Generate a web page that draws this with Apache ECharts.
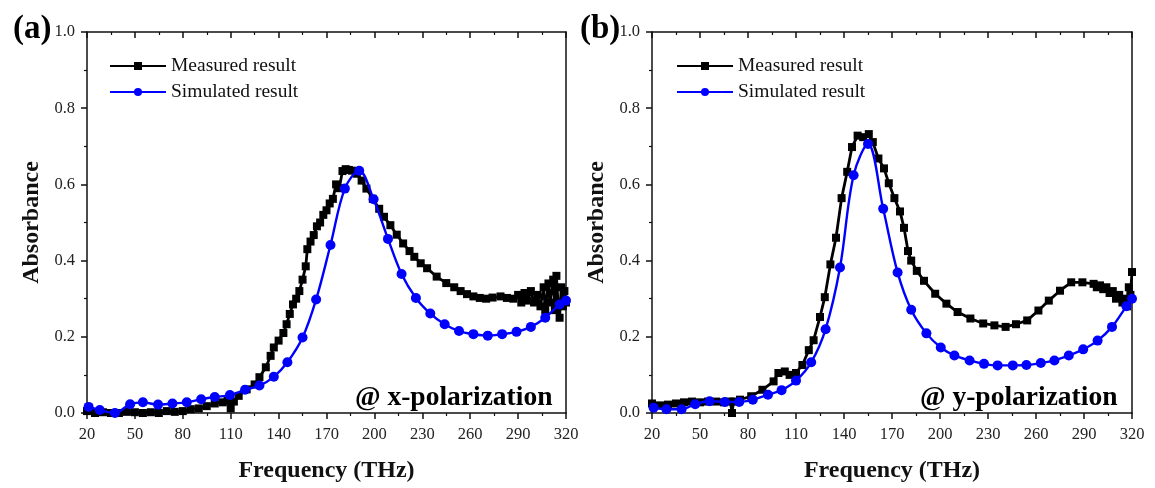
<!DOCTYPE html>
<html>
<head>
<meta charset="utf-8">
<script src="https://cdn.jsdelivr.net/npm/echarts@6/dist/echarts.min.js"></script>
<style>
  html, body { margin: 0; padding: 0; background: #fff; }
  #chart { width: 1155px; height: 488px; }
</style>
</head>
<body>
<div id="chart"></div>
<script>
// (a) x-polarization, measured: [frequency THz, absorbance]
const measuredX = [
  [20, 0.005], [25, 0.0], [30, 0.002], [35, 0.0], [40, 0.0], [45, 0.003], [50, 0.002], [55, 0.0],
  [60, 0.002], [65, 0.0], [70, 0.005], [75, 0.003], [80, 0.005], [85, 0.01], [90, 0.012], [95, 0.018],
  [100, 0.025], [105, 0.028], [108, 0.032], [110, 0.012], [112, 0.03], [115, 0.045], [120, 0.062],
  [125, 0.075], [128, 0.094], [132, 0.12], [135, 0.15], [137, 0.172], [140, 0.19], [143, 0.21],
  [145, 0.233], [147, 0.26], [149, 0.285], [151, 0.3], [153, 0.32], [155, 0.35], [157, 0.385],
  [158, 0.43], [160, 0.45], [162, 0.467], [164, 0.49], [166, 0.5], [168, 0.52], [170, 0.532],
  [172, 0.55], [174, 0.562], [176, 0.6], [178, 0.59], [180, 0.635], [182, 0.64], [184, 0.638],
  [186, 0.636], [189, 0.628], [192, 0.61], [195, 0.589], [199, 0.562], [203, 0.536], [206, 0.515],
  [210, 0.493], [214, 0.468], [218, 0.445], [222, 0.425], [225, 0.41], [229, 0.393], [233, 0.38],
  [239, 0.358], [245, 0.341], [250, 0.33], [254, 0.32], [258, 0.312], [262, 0.306], [266, 0.302],
  [270, 0.3], [274, 0.303], [279, 0.306], [283, 0.302], [287, 0.3], [290, 0.31], [292, 0.29],
  [294, 0.315], [296, 0.295], [298, 0.32], [300, 0.29], [302, 0.31], [304, 0.28], [306, 0.33],
  [307, 0.27], [309, 0.34], [310, 0.29], [312, 0.35], [313, 0.27], [314, 0.36], [315, 0.29],
  [316, 0.25], [317, 0.33], [318, 0.28], [319, 0.32], [320, 0.29]
];
// (a) x-polarization, simulated
const simulatedX = [
  [21, 0.016], [28, 0.008], [37.5, 0.0], [47, 0.023], [55, 0.028], [64.5, 0.022], [73.5, 0.025],
  [82.5, 0.028], [91.5, 0.036], [100, 0.042], [109.5, 0.047], [119, 0.061], [128, 0.072],
  [137, 0.095], [145.5, 0.133], [155, 0.198], [163.5, 0.298], [172.5, 0.441], [181.5, 0.589],
  [190.5, 0.636], [199.5, 0.561], [208.5, 0.457], [217, 0.365], [226, 0.302], [235, 0.261],
  [244, 0.233], [253, 0.215], [262, 0.207], [271, 0.203], [280, 0.207], [289, 0.213],
  [298, 0.226], [307, 0.25], [316, 0.285], [320, 0.295]
];
// (b) y-polarization, measured
const measuredY = [
  [20, 0.025], [25, 0.02], [30, 0.022], [35, 0.025], [40, 0.028], [45, 0.03], [50, 0.028],
  [55, 0.03], [60, 0.03], [65, 0.028], [69, 0.03], [70, 0.0], [71, 0.03], [75, 0.035], [82, 0.044],
  [89, 0.061], [96, 0.083], [99, 0.105], [103, 0.109], [106, 0.1], [110, 0.105], [114, 0.126],
  [118, 0.165], [121, 0.191], [125, 0.252], [128, 0.304], [131.5, 0.39], [135, 0.46], [138.5, 0.564],
  [142, 0.633], [145, 0.698], [148.5, 0.728], [152, 0.724], [155.5, 0.732], [158, 0.711],
  [161.5, 0.668], [165, 0.642], [168, 0.603], [171.5, 0.564], [175, 0.529], [177.5, 0.486],
  [180, 0.425], [182, 0.4], [185.5, 0.373], [190, 0.347], [197, 0.313], [204, 0.287], [211, 0.265],
  [219, 0.248], [227, 0.235], [234, 0.23], [241, 0.226], [247.5, 0.233], [254.5, 0.243],
  [261.5, 0.269], [268, 0.295], [275, 0.321], [282, 0.343], [289, 0.343], [296, 0.339],
  [298, 0.33], [300, 0.335], [302, 0.325], [304, 0.33], [306, 0.315], [308, 0.32], [310, 0.3],
  [312, 0.31], [314, 0.29], [316, 0.3], [317, 0.28], [318, 0.33], [319, 0.31], [320, 0.37]
];
// (b) y-polarization, simulated
const simulatedY = [
  [21, 0.014], [29, 0.01], [38.5, 0.01], [47, 0.023], [56, 0.031], [65.5, 0.029], [74.5, 0.029],
  [83, 0.035], [92.5, 0.048], [101, 0.06], [110, 0.085], [119.5, 0.133], [128.5, 0.22],
  [137.5, 0.382], [146, 0.624], [155, 0.706], [164.5, 0.536], [173.5, 0.369], [182, 0.271],
  [191.5, 0.209], [200.5, 0.172], [209, 0.151], [218.5, 0.138], [227.5, 0.129], [236, 0.125],
  [245.5, 0.125], [254, 0.126], [263, 0.131], [271.5, 0.138], [280.5, 0.151], [289.5, 0.167],
  [298.5, 0.19], [307.5, 0.226], [316.5, 0.28], [320, 0.3]
];

const panelLabels = ['(a)', '(b)'];
const polarLabels = ['@ x-polarization', '@ y-polarization'];
const xTitle = 'Frequency (THz)';
const yTitle = 'Absorbance';

const FONT = '"Liberation Serif", "Times New Roman", serif';

const chart = echarts.init(document.getElementById('chart'));

const grids = [
  {left: 87, top: 32, width: 479, height: 384},
  {left: 652, top: 32, width: 480, height: 384}
];

function bottomX(i) {
  return {
    type: 'value', gridIndex: i, position: 'bottom',
    min: 20, max: 320, interval: 30,
    name: xTitle, nameLocation: 'middle', nameGap: 46,
    nameTextStyle: {fontFamily: FONT, fontWeight: 'bold', fontSize: 24, color: '#111'},
    axisLine: {onZero: false, lineStyle: {color: '#111', width: 1.5}},
    axisTick: {inside: false, length: 6, lineStyle: {color: '#111', width: 1.5}},
    minorTick: {show: true, splitNumber: 2, length: 3, lineStyle: {color: '#111', width: 1.2}},
    axisLabel: {fontFamily: FONT, fontSize: 16.5, color: '#222', margin: 13},
    splitLine: {show: false}
  };
}
function topX(i) {
  return {
    type: 'value', gridIndex: i, position: 'top',
    min: 20, max: 320, interval: 30,
    axisLine: {onZero: false, lineStyle: {color: '#111', width: 1.5}},
    axisTick: {inside: true, length: 6, lineStyle: {color: '#111', width: 1.5}},
    minorTick: {show: true, splitNumber: 2, length: 3, lineStyle: {color: '#111', width: 1.2}},
    axisLabel: {show: false},
    splitLine: {show: false}
  };
}
function leftY(i) {
  return {
    type: 'value', gridIndex: i, position: 'left',
    min: 0, max: 1, interval: 0.2,
    name: yTitle, nameLocation: 'middle', nameGap: 43,
    nameTextStyle: {fontFamily: FONT, fontWeight: 'bold', fontSize: 24, color: '#111'},
    axisLine: {show: true, onZero: false, lineStyle: {color: '#111', width: 1.5}},
    axisTick: {show: true, inside: false, length: 6, lineStyle: {color: '#111', width: 1.5}},
    minorTick: {show: true, splitNumber: 2, length: 3, lineStyle: {color: '#111', width: 1.2}},
    axisLabel: {fontFamily: FONT, fontSize: 16.5, color: '#222', margin: 12,
      formatter: v => v.toFixed(1)},
    splitLine: {show: false}
  };
}
function rightY(i) {
  return {
    type: 'value', gridIndex: i, position: 'right',
    min: 0, max: 1, interval: 0.2,
    axisLine: {show: true, onZero: false, lineStyle: {color: '#111', width: 1.5}},
    axisTick: {show: false},
    axisLabel: {show: false},
    splitLine: {show: false}
  };
}

function measuredSeries(i, data) {
  return {
    name: 'Measured result', type: 'line', xAxisIndex: i * 2, yAxisIndex: i * 2,
    data: data, symbol: 'rect', symbolSize: 8, showAllSymbol: true,
    lineStyle: {color: '#000', width: 2.8}, itemStyle: {color: '#000'},
    z: 3
  };
}
function simulatedSeries(i, data) {
  return {
    name: 'Simulated result', type: 'line', xAxisIndex: i * 2, yAxisIndex: i * 2,
    data: data, symbol: 'circle', symbolSize: 10, smooth: 0.35, showAllSymbol: true,
    lineStyle: {color: '#0000ff', width: 2.4}, itemStyle: {color: '#0000ff'},
    z: 4
  };
}

function legend(left) {
  return {
    left: left, top: 51, orient: 'vertical',
    itemWidth: 56, itemHeight: 10, itemGap: 6,
    textStyle: {fontFamily: FONT, fontSize: 19.5, color: '#111'},
    data: ['Measured result', 'Simulated result']
  };
}

const option = {
  animation: false,
  backgroundColor: '#fff',
  title: [
    {text: panelLabels[0], left: 8, top: 8, textStyle: {fontFamily: FONT, fontWeight: 'bold', fontSize: 33, color: '#000'}},
    {text: panelLabels[1], left: 575, top: 8, textStyle: {fontFamily: FONT, fontWeight: 'bold', fontSize: 33, color: '#000'}},
    {text: polarLabels[0], left: 350, top: 379, textStyle: {fontFamily: FONT, fontWeight: 'bold', fontSize: 27.5, color: '#000'}},
    {text: polarLabels[1], left: 915, top: 379, textStyle: {fontFamily: FONT, fontWeight: 'bold', fontSize: 27.5, color: '#000'}}
  ],
  legend: [legend(104), legend(671)],
  grid: grids,
  xAxis: [bottomX(0), topX(0), bottomX(1), topX(1)],
  yAxis: [leftY(0), rightY(0), leftY(1), rightY(1)],
  series: [
    measuredSeries(0, measuredX),
    simulatedSeries(0, simulatedX),
    measuredSeries(1, measuredY),
    simulatedSeries(1, simulatedY)
  ]
};

chart.setOption(option);
</script>
</body>
</html>
